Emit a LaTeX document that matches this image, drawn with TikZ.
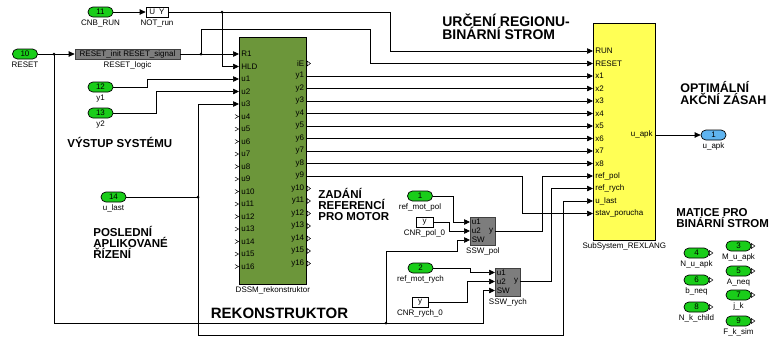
\documentclass[tikz,border=0pt]{standalone}
\usepackage{fontspec}
\setmainfont{Liberation Sans}
\usetikzlibrary{arrows.meta}
\definecolor{pgreen}{RGB}{25,205,25}
\definecolor{pblue}{RGB}{95,180,240}
\definecolor{dssmgreen}{RGB}{108,150,58}
\definecolor{rexyellow}{RGB}{255,255,85}
\definecolor{blkgray}{RGB}{125,125,125}
\newcommand\lblfont{\fontsize{8}{9}\selectfont}
\newcommand\ttlfont[2]{\fontsize{#1}{#2}\selectfont\bfseries}
\begin{document}
\begin{tikzpicture}[x=1pt,y=-1pt, line width=0.7pt,
  wire/.style={draw=black, -{Triangle[length=6pt,width=5.5pt]}},
  wireplain/.style={draw=black},
  pill/.style={draw=black, fill=pgreen, rounded corners=4.9pt, minimum width=25pt, minimum height=10pt, inner sep=0pt, font=\lblfont},
  opill/.style={pill, fill=pblue},
  cbox/.style={draw=black, fill=white, minimum width=17pt, minimum height=10pt, inner sep=0pt, font=\lblfont},
  gblock/.style={draw=black!75, fill=blkgray, inner sep=0pt, font=\lblfont},
  below lbl/.style={label={[font=\lblfont, inner sep=0pt, label distance=2pt]below:#1}},
  plbl/.style={font=\lblfont, inner sep=0pt},
  ttl/.style={align=left, inner sep=0pt, anchor=west},
  jdot/.style={circle, fill=black, inner sep=0pt, minimum size=3pt},
  chev/.style={line width=0.5pt, draw=black},
]
\fill[white] (0,0) rectangle (772,338);
\useasboundingbox (0,0) rectangle (772,338);

% ---- main blocks
\node[draw=black, fill=dssmgreen, minimum width=67pt, minimum height=247pt, inner sep=0pt, anchor=north west, below lbl=DSSM\_rekonstruktor] (dssm) at (239,37) {};
\node[draw=black, fill=rexyellow, minimum width=62pt, minimum height=217pt, inner sep=0pt, anchor=north west, below lbl=SubSystem\_REXLANG] (rex) at (593,23) {};

% DSSM inputs
\foreach \n [count=\i from 0] in {R1,HLD,u1,u2,u3,u4,u5,u6,u7,u8,u9,u10,u11,u12,u13,u14,u15,u16} {
  \coordinate (dssm-\n) at (239,{54+12.5*\i});
  \node[plbl, anchor=west] at (241,{54+12.5*\i}) {\n};
}
\foreach \i in {5,...,17}
  \draw[chev] (235,{54+12.5*\i-2}) -- (238.5,{54+12.5*\i}) -- (235,{54+12.5*\i+2});
% DSSM outputs
\foreach \n [count=\i from 0] in {iE,y1,y2,y3,y4,y5,y6,y7,y8,y9,y10,y11,y12,y13,y14,y15,y16} {
  \coordinate (dssm-\n) at (306,{63.5+12.5*\i});
  \node[plbl, anchor=east] at (304.5,{63.5+12.5*\i}) {\n};
}
\foreach \i in {0,10,11,...,16}
  \draw[chev] (307,{63.5+12.5*\i-2.5}) -- (310.5,{63.5+12.5*\i}) -- (307,{63.5+12.5*\i+2.5}) -- cycle;

% REXLANG inputs
\foreach \n/\t [count=\i from 0] in {RUN/RUN,RESET/RESET,x1/x1,x2/x2,x3/x3,x4/x4,x5/x5,x6/x6,x7/x7,x8/x8,refpol/ref\_pol,refrych/ref\_rych,ulast/u\_last,stav/stav\_porucha} {
  \coordinate (rex-\n) at (593,{51+12.5*\i});
  \node[plbl, anchor=west] at (595,{51+12.5*\i}) {\t};
}
\coordinate (rex-out) at (655,135);
\node[plbl, anchor=east] at (653,134) {u\_apk};

% ---- ports
\node[pill, below lbl=RESET] (p10) at (25,54) {10};
\node[pill, below lbl=CNB\_RUN] (p11) at (100.5,12) {11};
\node[pill, below lbl=y1] (p12) at (100.5,87) {12};
\node[pill, below lbl=y2] (p13) at (100.5,113) {13};
\node[pill, below lbl=u\_last] (p14) at (113.5,197) {14};
\node[pill, below lbl=ref\_mot\_pol] (p1) at (420,196) {1};
\node[pill, below lbl=ref\_mot\_rych] (p2) at (420.5,268) {2};
\node[opill, below lbl=u\_apk] (out1) at (713.5,135) {1};

\foreach \num/\nm/\x/\y in {4/N\_u\_apk/696.5/253, 6/b\_neq/696.5/280, 8/N\_k\_child/696.5/307, 3/M\_u\_apk/738.5/246, 5/A\_neq/738.5/271, 7/j\_k/738.5/295, 9/F\_k\_sim/738.5/321} {
  \node[pill, below lbl=\nm] (pr\num) at (\x,\y) {\num};
  \draw[chev] (pr\num.east) ++(0,-2.5) -- ++(3.5,2.5) -- ++(-3.5,2.5) -- cycle;
}

% ---- small blocks
\node[cbox, minimum width=22pt, below lbl=NOT\_run] (notrun) at (157,12) {U\enspace Y};
\node[gblock, minimum width=105pt, minimum height=10pt, below lbl=RESET\_logic] (rl) at (127.5,54) {RESET\_init RESET\_signal};
\node[cbox, below lbl=CNR\_pol\_0] (cnrpol) at (424.5,222) {y};
\node[cbox, minimum width=16pt, below lbl=CNR\_rych\_0] (cnrrych) at (420,302) {y};

\node[gblock, minimum width=25pt, minimum height=28pt, anchor=north west, below lbl=SSW\_pol] (sswpol) at (470,217) {};
\node[plbl, anchor=west] at (471.5,222) {u1};
\node[plbl, anchor=west] at (471.5,231) {u2};
\node[plbl, anchor=west] at (471.5,240) {SW};
\node[plbl, anchor=east] at (493.5,231) {y};
\coordinate (sswpol-u1) at (470,222);
\coordinate (sswpol-u2) at (470,231);
\coordinate (sswpol-sw) at (470,240);
\coordinate (sswpol-y) at (495,231);

\node[gblock, minimum width=25pt, minimum height=28pt, anchor=north west, below lbl=SSW\_rych] (sswrych) at (495,267.5) {};
\node[plbl, anchor=west] at (496.5,272.5) {u1};
\node[plbl, anchor=west] at (496.5,281.5) {u2};
\node[plbl, anchor=west] at (496.5,290.5) {SW};
\node[plbl, anchor=east] at (518.5,281) {y};
\coordinate (sswrych-u1) at (495,272.5);
\coordinate (sswrych-u2) at (495,281.5);
\coordinate (sswrych-sw) at (495,290.5);
\coordinate (sswrych-y) at (520,281);

% ---- junctions
\coordinate (jrun) at (222,12);
\coordinate (jreset) at (54,54);
\coordinate (jrl) at (201,54);
\coordinate (jlast) at (198,197);
\coordinate (jsw) at (386,323);

% ---- wires
\draw[wire] (p11.east) -- (notrun.west);
\draw[wireplain] (notrun.east) -- (jrun);
\draw[wire] (jrun) -- (390,12) |- (rex-RUN);
\draw[wire] (jrun) |- (dssm-HLD);
\draw[wire] (p10.east) -- (rl.west);
\draw[wire] (rl.east) -- (dssm-R1);
\draw[wire] (jrl) |- (370,29) |- (rex-RESET);
\draw[wire] (p12.east) -- (147,87) |- (dssm-u1);
\draw[wire] (p13.east) -- (156,113) |- (dssm-u2);
\draw[wireplain] (p14.east) -- (jlast);
\draw[wire] (jlast) |- (dssm-u3);
\draw[wire] (jlast) -- (198,335) -- (563,335) |- (rex-ulast);
\foreach \k in {1,...,8} \draw[wire] (dssm-y\k) -- (rex-x\k);
\draw[wire] (dssm-y9) -- (522,176) |- (rex-stav);
\draw[wire] (p1.east) -- (453,196) |- (sswpol-u1);
\draw[wire] (cnrpol.east) -- (449,222) |- (sswpol-u2);
\draw[wire] (jreset) -- (54,323) -- (483,323) |- (sswrych-sw);
\draw[wire] (jsw) -- (386,251) -- (457,251) |- (sswpol-sw);
\draw[wire] (sswpol-y) -- (542,231) |- (rex-refpol);
\draw[wire] (p2.east) -- (470,268) |- (sswrych-u1);
\draw[wire] (cnrrych.east) -- (467,302) |- (sswrych-u2);
\draw[wire] (sswrych-y) -- (551,281) |- (rex-refrych);
\draw[wire] (rex-out) -- (out1.west);

\foreach \j in {jrun,jreset,jrl,jlast,jsw} \node[jdot] at (\j) {};

% ---- titles
\node[ttl, font=\ttlfont{14}{13}] (t1) at (442,26.5) {URČENÍ REGIONU-\\BINÁRNÍ STROM};
\node[ttl, font=\ttlfont{12.5}{12}] (t2) at (680,93) {OPTIMÁLNÍ\\AKČNÍ ZÁSAH};
\node[ttl, font=\ttlfont{11.5}{11}] (t3) at (67,142) {VÝSTUP SYSTÉMU};
\node[ttl, font=\ttlfont{11.5}{11}] (t4) at (93,242) {POSLEDNÍ\\APLIKOVANÉ\\ŘÍZENÍ};
\node[ttl, font=\ttlfont{11.5}{11}] (t5) at (318,204) {ZADÁNÍ\\REFERENCÍ\\PRO MOTOR};
\node[ttl, font=\ttlfont{11.5}{11}] (t6) at (676,218.5) {MATICE PRO\\BINÁRNÍ STROM};
\node[font=\ttlfont{15}{16}, inner sep=0pt] (t7) at (279.5,313) {REKONSTRUKTOR};
\end{tikzpicture}
\end{document}
